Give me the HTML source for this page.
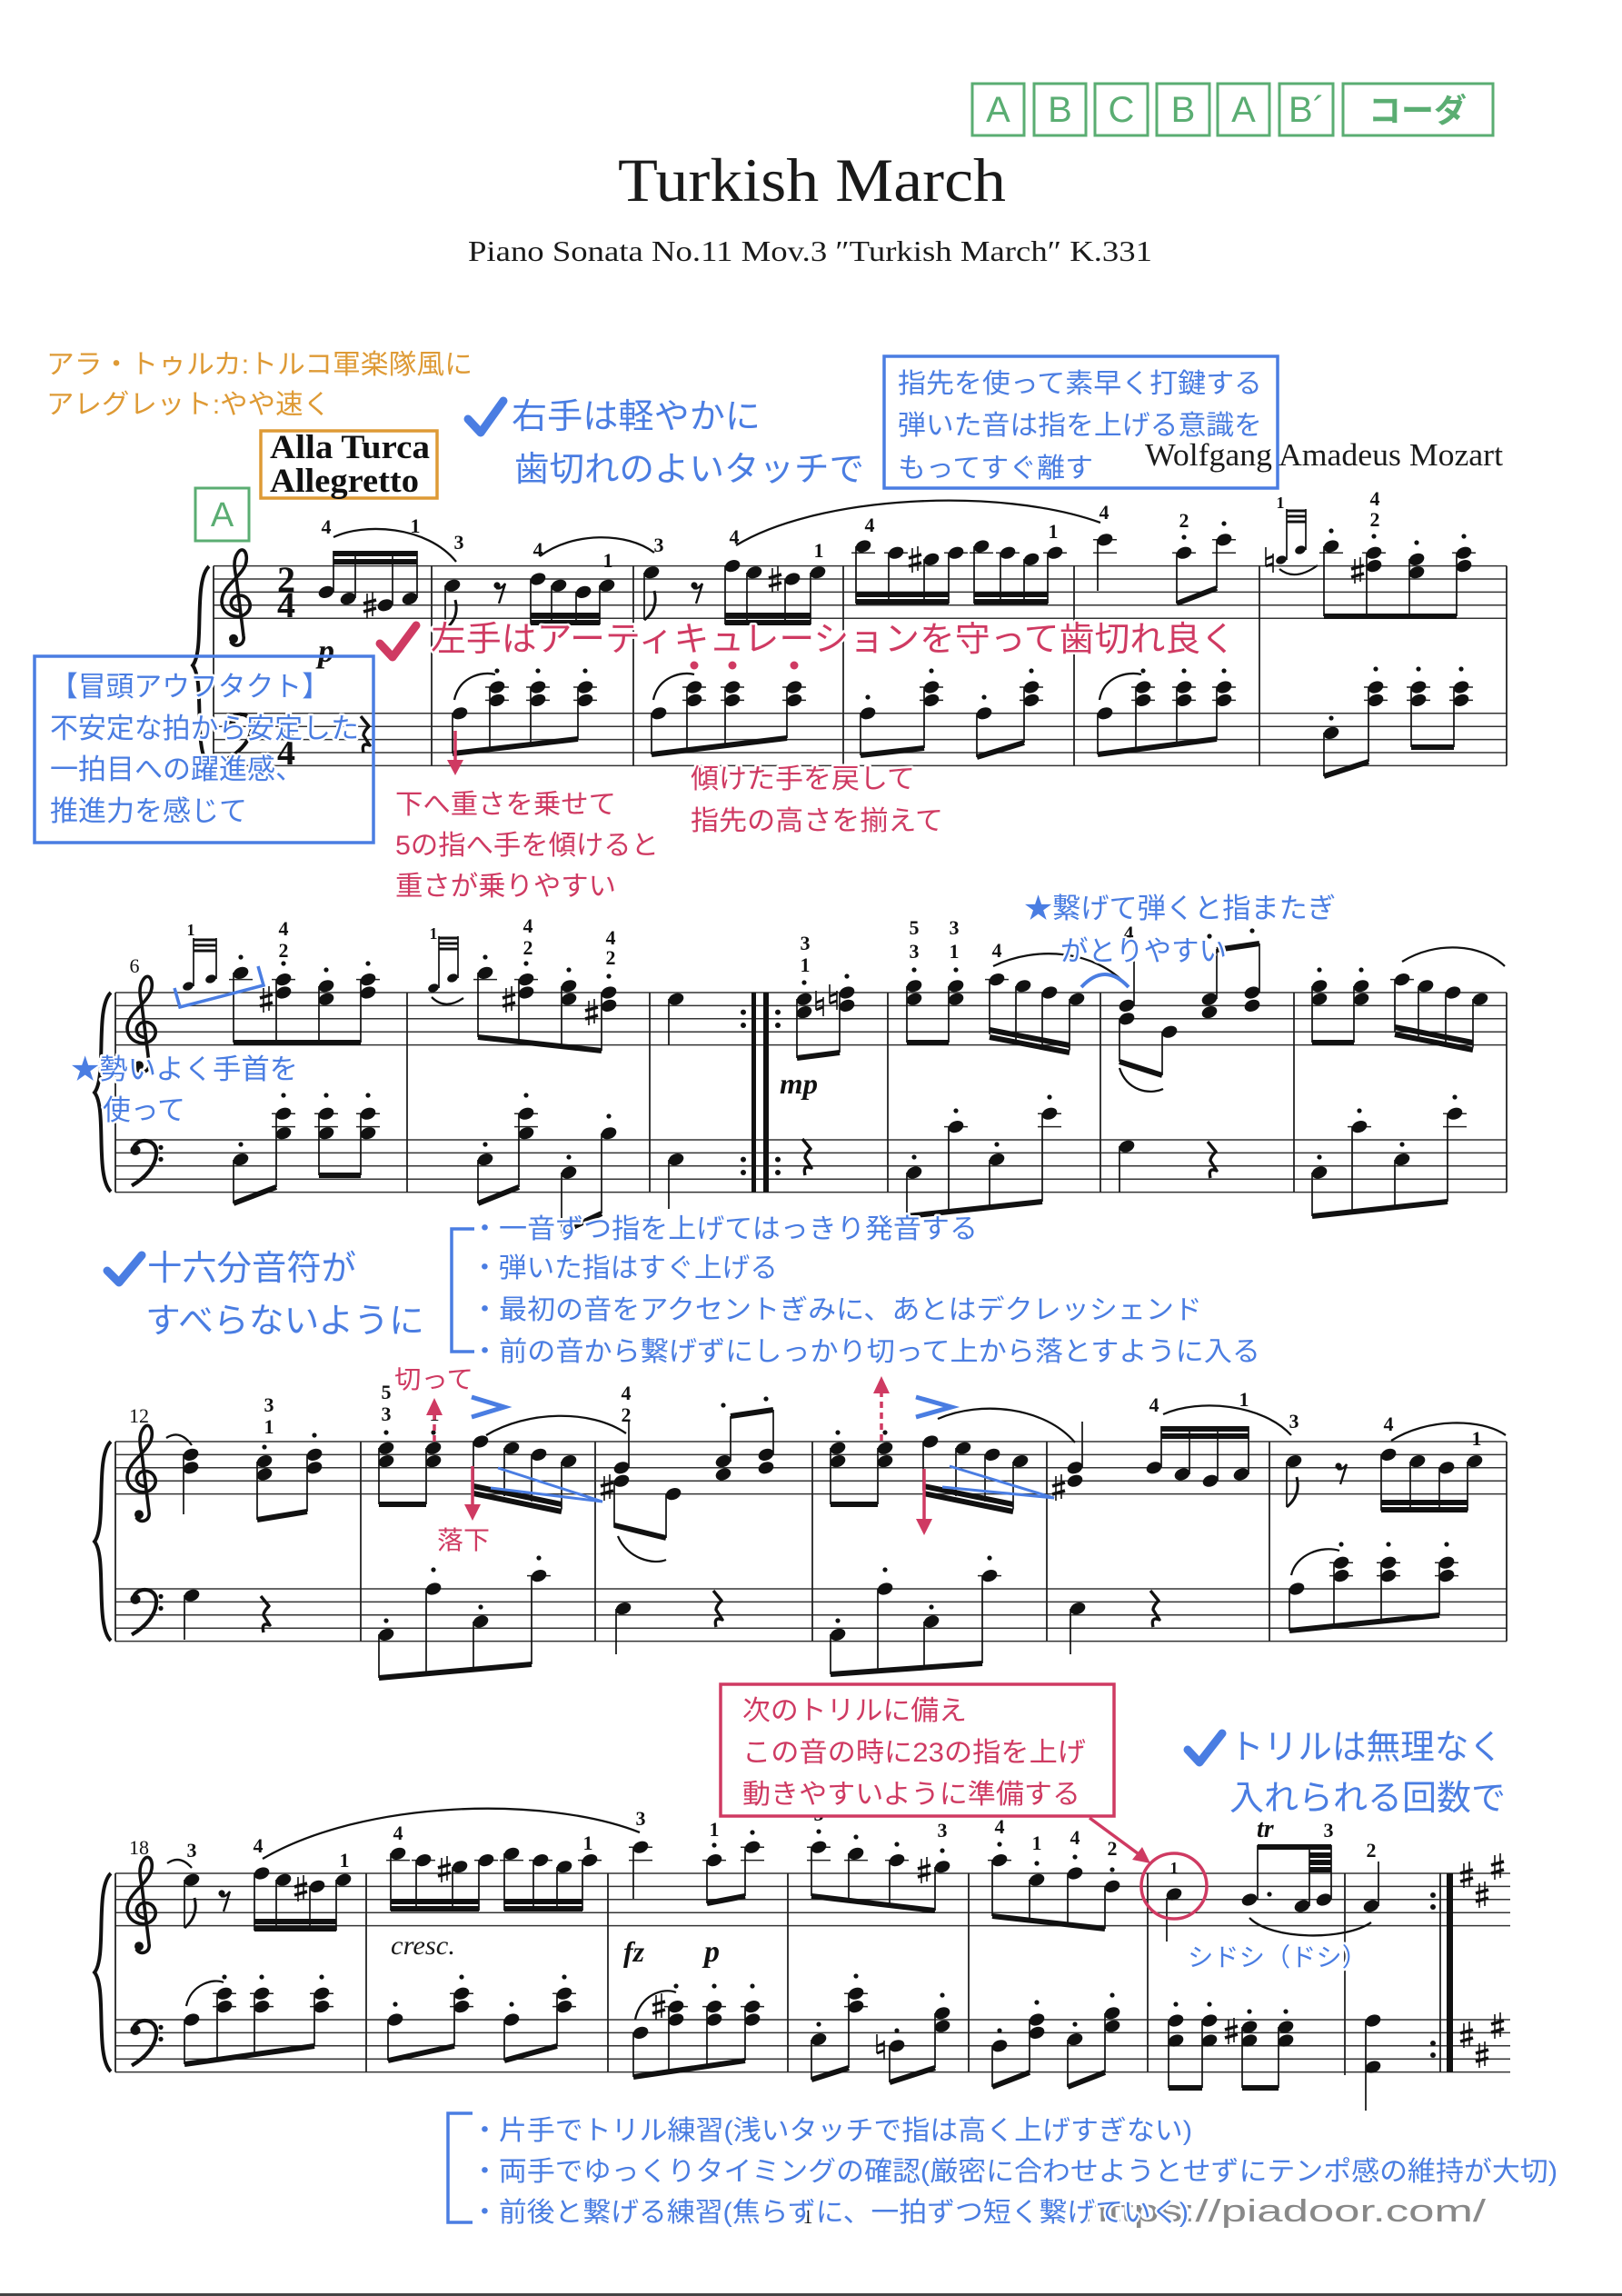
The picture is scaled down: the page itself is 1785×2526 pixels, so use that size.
<!DOCTYPE html>
<html><head><meta charset="utf-8">
<style>
html,body{margin:0;padding:0;background:#fff}
svg{display:block}
.f{font-family:"Liberation Serif",serif;font-weight:bold;font-size:22px;text-anchor:middle;fill:#111}
.t{font-family:"Liberation Sans","Noto Sans CJK JP",sans-serif;stroke:#fff;stroke-width:5px;paint-order:stroke;stroke-linejoin:round}
.b{fill:#4a7de2}.r{fill:#cf3a62}.o{fill:#de9a35}
.sr{font-family:"Liberation Serif",serif;fill:#1a1a1a}
.dy{font-family:"Liberation Serif",serif;font-weight:bold;font-style:italic;fill:#111}
</style></head><body>
<svg width="1785" height="2526" viewBox="0 0 1785 2526" xmlns="http://www.w3.org/2000/svg" xmlns:xlink="http://www.w3.org/1999/xlink">
<defs>
<ellipse id="h" rx="8.6" ry="6.2" transform="rotate(-22)"/>
<ellipse id="gh" rx="6" ry="4.4" transform="rotate(-22)"/>
<circle id="d" r="2.6"/>
<g id="sh" stroke="#111" fill="none"><path d="M-3 -13V14M3 -15V12" stroke-width="1.6"/><path d="M-7 -2L7 -6M-7 7L7 3" stroke-width="3.6"/></g>
<g id="na" stroke="#111" fill="none"><path d="M-4 -14V7M4 -7V14" stroke-width="1.6"/><path d="M-4 -1L4 -4M-4 7L4 4" stroke-width="3"/></g>
<g id="tc"><path d="M4 6C-8 8 -12 -6 -2 -10C10 -14 18 0 10 8C0 18 -18 10 -18 -4C-18 -20 2 -30 8 -44C12 -56 6 -66 0 -58C-6 -50 -4 -40 -2 -30L6 34C8 44 -4 48 -8 40" fill="none" stroke="#111" stroke-width="3.6"/><circle cx="-5" cy="37" r="5" fill="#111"/></g>
<g id="bc"><path d="M-10 -3C-10 -16 14 -18 15 -2C16 14 2 28 -12 36" fill="none" stroke="#111" stroke-width="4.2"/><circle cx="-8" cy="-3" r="5.5" fill="#111"/><circle cx="20" cy="-6" r="2.6" fill="#111"/><circle cx="20" cy="7" r="2.6" fill="#111"/></g>
<g id="er"><circle cx="-3" cy="-6" r="3.6" fill="#111"/><path d="M-4 -3Q1 -1 6 -8L-1 14" fill="none" stroke="#111" stroke-width="2.4"/></g>
<path id="qr" d="M-4 -24L5 -13Q-1 -7 -1 -3L6 8Q-4 4 -1 16" fill="none" stroke="#111" stroke-width="3.4" stroke-linejoin="round"/>
</defs>

<!-- Section boxes -->
<g fill="none" stroke="#5aad72" stroke-width="3">
<rect x="1070" y="92" width="57" height="57"/><rect x="1138" y="92" width="57" height="57"/><rect x="1205" y="92" width="58" height="57"/><rect x="1273" y="92" width="58" height="57"/><rect x="1340" y="92" width="57" height="57"/><rect x="1408" y="92" width="59" height="57"/><rect x="1478" y="92" width="165" height="57"/>
</g>
<g font-family="Liberation Sans, Noto Sans CJK JP, sans-serif" font-size="40" fill="#5aad72" text-anchor="middle">
<text x="1098.5" y="134">A</text><text x="1166.5" y="134">B</text><text x="1234" y="134">C</text><text x="1302" y="134">B</text><text x="1368.5" y="134">A</text><text x="1438" y="134">B´</text><text x="1560" y="134" font-size="36" font-weight="bold">コーダ</text>
</g>

<!-- Titles -->
<text class="sr" x="680" y="221" font-size="68" textLength="427" lengthAdjust="spacingAndGlyphs">Turkish March</text>
<text class="sr" x="515" y="287" font-size="32" textLength="753" lengthAdjust="spacingAndGlyphs">Piano Sonata No.11 Mov.3 ″Turkish March″ K.331</text>

<!-- Staff lines -->
<path fill="none" stroke="#333" stroke-width="1.5" d="
M235 622.6H1658M235 637H1658M235 651.4H1658M235 665.8H1658M235 680.2H1658
M235 784.8H1658M235 799.2H1658M235 813.6H1658M235 828H1658M235 842.4H1658
M127 1092H1658M127 1106.4H1658M127 1120.8H1658M127 1135.2H1658M127 1149.6H1658
M127 1254H1658M127 1268.4H1658M127 1282.8H1658M127 1297.2H1658M127 1311.6H1658
M127 1586H1658M127 1600.4H1658M127 1614.8H1658M127 1629.2H1658M127 1643.6H1658
M127 1748H1658M127 1762.4H1658M127 1776.8H1658M127 1791.2H1658M127 1805.6H1658
M127 2061H1662M127 2075.4H1662M127 2089.8H1662M127 2104.2H1662M127 2118.6H1662
M127 2222H1662M127 2236.4H1662M127 2250.8H1662M127 2265.2H1662M127 2279.6H1662"/>
<!-- Barlines -->
<path fill="none" stroke="#222" stroke-width="1.8" d="
M235 622.6V842.4M475 622.6V842.4M697 622.6V842.4M928 622.6V842.4M1182 622.6V842.4M1386 622.6V842.4M1658 622.6V842.4
M127 1092V1311.6M448 1092V1311.6M715 1092V1311.6M977 1092V1311.6M1211 1092V1311.6M1424 1092V1311.6M1658 1092V1311.6
M127 1586V1805.6M397 1586V1805.6M655 1586V1805.6M894 1586V1805.6M1152 1586V1805.6M1397 1586V1805.6M1658 1586V1805.6
M127 2061V2279.6M403 2061V2279.6M669 2061V2279.6M867 2061V2279.6M1066 2061V2279.6M1263 2061V2279.6M1480 2061V2283M1585 2061V2279.6"/>
<rect x="827" y="1092" width="5" height="219.6" fill="#111"/><rect x="840" y="1092" width="6" height="219.6" fill="#111"/>
<rect x="1592" y="2061" width="7" height="218.6" fill="#111"/>
<!-- Ledger lines -->
<path fill="none" stroke="#222" stroke-width="1.5" d="
M937 608.2h26M973 608.2h26M1039 608.2h26M1067 608.2h26M1096 608.2h26M1148 608.2h26M1203 608.2h26M1203 593.8h26M1290 608.2h26M1334 608.2h26M1334 593.8h26M1452 608.2h26M1499 608.2h26M1598 608.2h26
M534 770.4h26M534 756h26M579 770.4h26M579 756h26M631 770.4h26M631 756h26M751 770.4h26M751 756h26M793 770.4h26M793 756h26M861 770.4h26M861 756h26M1012 770.4h26M1012 756h26M1122 770.4h26M1122 756h26M1245 770.4h26M1245 756h26M1290 770.4h26M1290 756h26M1334 770.4h26M1334 756h26M1501 770.4h26M1501 756h26M1548 770.4h26M1548 756h26M1595 770.4h26M1595 756h26
M252 1077.6h26M299 1077.6h26M392 1077.6h26M521 1077.6h26M566 1077.6h26M1084 1077.6h26M1530 1077.6h26
M299 1239.6h26M299 1225.2h26M346 1239.6h26M346 1225.2h26M392 1239.6h26M392 1225.2h26M566 1239.6h26M566 1225.2h26M1142 1239.6h26M1142 1225.2h26M1588 1239.6h26M1588 1225.2h26M1039 1239.6h26M1483 1239.6h26
M580 1733.6h26M1076 1733.6h26M1463 1733.6h26M1463 1719.2h26M1515 1733.6h26M1515 1719.2h26M1579 1733.6h26M1579 1719.2h26
M425 2046.6h26M453 2046.6h26M522 2046.6h26M550 2046.6h26M582 2046.6h26M636 2046.6h26M692 2046.6h26M692 2032.2h26M773 2046.6h26M815 2046.6h26M815 2032.2h26M888 2046.6h26M888 2032.2h26M929 2046.6h26M974 2046.6h26M1087 2046.6h26
M234 2207.6h26M234 2193.2h26M275 2207.6h26M275 2193.2h26M341 2207.6h26M341 2193.2h26M495 2207.6h26M495 2193.2h26M608 2207.6h26M608 2193.2h26M731 2207.6h26M773 2207.6h26M815 2207.6h26M929 2207.6h26M929 2193.2h26"/>

<!-- Braces -->
<g fill="none" stroke="#111" stroke-width="4">
<path d="M230 623C212 640 226 715 212 732C226 750 212 825 230 842"/>
<path d="M122 1092C104 1109 118 1184 104 1202C118 1219 104 1294 122 1311"/>
<path d="M122 1586C104 1603 118 1678 104 1696C118 1713 104 1788 122 1805"/>
<path d="M122 2061C104 2078 118 2153 104 2170C118 2187 104 2262 122 2279"/>
</g>
<!-- Clefs -->
<use href="#tc" x="262" y="665.8"/><use href="#bc" x="262" y="799.2"/>
<use href="#tc" x="158" y="1135.2"/><use href="#bc" x="157" y="1268.4"/>
<use href="#tc" x="158" y="1629.2"/><use href="#bc" x="157" y="1762.4"/>
<use href="#tc" x="158" y="2104.2"/><use href="#bc" x="157" y="2236.4"/>
<!-- Time signature -->
<g font-family="Liberation Serif, serif" font-weight="bold" font-size="40" text-anchor="middle" fill="#111">
<text x="315" y="651">2</text><text x="315" y="679">4</text><text x="315" y="813">2</text><text x="315" y="841">4</text>
</g>
<!-- measure numbers -->
<g font-family="Liberation Serif, serif" font-size="22" fill="#111" text-anchor="middle">
<text x="148" y="1070">6</text><text x="153" y="1565">12</text><text x="153" y="2040">18</text><text x="889" y="2446">1</text>
</g>

<!-- Noteheads -->
<g fill="#111">
<use href="#h" x="359" y="651.4"/><use href="#h" x="383" y="658.6"/><use href="#h" x="424" y="665.8"/><use href="#h" x="451" y="658.6"/>
<use href="#h" x="498" y="644.2"/><use href="#h" x="592" y="637"/><use href="#h" x="615" y="644.2"/><use href="#h" x="642" y="651.4"/><use href="#h" x="668" y="644.2"/>
<use href="#h" x="717" y="629.8"/><use href="#h" x="806" y="622.6"/><use href="#h" x="830" y="629.8"/><use href="#h" x="872" y="637"/><use href="#h" x="900" y="629.8"/>
<use href="#h" x="950" y="601"/><use href="#h" x="986" y="608.2"/><use href="#h" x="1025" y="615.4"/><use href="#h" x="1052" y="608.2"/><use href="#h" x="1080" y="601"/><use href="#h" x="1109" y="608.2"/><use href="#h" x="1135" y="615.4"/><use href="#h" x="1161" y="608.2"/>
<use href="#h" x="1216" y="593.8"/><use href="#h" x="1303" y="608.2"/><use href="#h" x="1347" y="593.8"/>
<use href="#gh" x="1410" y="616"/><use href="#gh" x="1431" y="605"/>
<use href="#h" x="1465" y="601"/><use href="#h" x="1512" y="608.2"/><use href="#h" x="1512" y="622.6"/><use href="#h" x="1559" y="615.4"/><use href="#h" x="1559" y="629.8"/><use href="#h" x="1611" y="608.2"/><use href="#h" x="1611" y="622.6"/>
<!-- S1 bass -->
<use href="#h" x="506" y="784.8"/><use href="#h" x="547" y="756"/><use href="#h" x="547" y="770.4"/><use href="#h" x="592" y="756"/><use href="#h" x="592" y="770.4"/><use href="#h" x="644" y="756"/><use href="#h" x="644" y="770.4"/>
<use href="#h" x="725" y="784.8"/><use href="#h" x="764" y="756"/><use href="#h" x="764" y="770.4"/><use href="#h" x="806" y="756"/><use href="#h" x="806" y="770.4"/><use href="#h" x="874" y="756"/><use href="#h" x="874" y="770.4"/>
<use href="#h" x="955" y="784.8"/><use href="#h" x="1025" y="756"/><use href="#h" x="1025" y="770.4"/><use href="#h" x="1083" y="784.8"/><use href="#h" x="1135" y="756"/><use href="#h" x="1135" y="770.4"/>
<use href="#h" x="1216" y="784.8"/><use href="#h" x="1258" y="756"/><use href="#h" x="1258" y="770.4"/><use href="#h" x="1303" y="756"/><use href="#h" x="1303" y="770.4"/><use href="#h" x="1347" y="756"/><use href="#h" x="1347" y="770.4"/>
<use href="#h" x="1465" y="806.4"/><use href="#h" x="1514" y="756"/><use href="#h" x="1514" y="770.4"/><use href="#h" x="1561" y="756"/><use href="#h" x="1561" y="770.4"/><use href="#h" x="1608" y="756"/><use href="#h" x="1608" y="770.4"/>
<!-- S2 treble -->
<use href="#gh" x="207" y="1085"/><use href="#gh" x="232" y="1077"/>
<use href="#h" x="265" y="1070.4"/><use href="#h" x="312" y="1077.6"/><use href="#h" x="312" y="1092"/><use href="#h" x="359" y="1084.8"/><use href="#h" x="359" y="1099.2"/><use href="#h" x="405" y="1077.6"/><use href="#h" x="405" y="1092"/>
<use href="#gh" x="477" y="1087"/><use href="#gh" x="498" y="1076"/>
<use href="#h" x="534" y="1070.4"/><use href="#h" x="579" y="1077.6"/><use href="#h" x="579" y="1092"/><use href="#h" x="626" y="1084.8"/><use href="#h" x="626" y="1099.2"/><use href="#h" x="670" y="1092"/><use href="#h" x="670" y="1106.4"/>
<use href="#h" x="744" y="1099.2"/>
<use href="#h" x="885" y="1099.2"/><use href="#h" x="885" y="1113.6"/><use href="#h" x="932" y="1092"/><use href="#h" x="932" y="1106.4"/>
<use href="#h" x="1006" y="1084.8"/><use href="#h" x="1006" y="1099.2"/><use href="#h" x="1052" y="1084.8"/><use href="#h" x="1052" y="1099.2"/><use href="#h" x="1097" y="1077.6"/><use href="#h" x="1126" y="1084.8"/><use href="#h" x="1155" y="1092"/><use href="#h" x="1185" y="1099.2"/>
<use href="#h" x="1240" y="1106.4"/><use href="#h" x="1240" y="1120.8"/><use href="#h" x="1287" y="1135.2"/><use href="#h" x="1331" y="1099.2"/><use href="#h" x="1331" y="1113.6"/><use href="#h" x="1378" y="1092"/><use href="#h" x="1378" y="1106.4"/>
<use href="#h" x="1452" y="1084.8"/><use href="#h" x="1452" y="1099.2"/><use href="#h" x="1498" y="1084.8"/><use href="#h" x="1498" y="1099.2"/><use href="#h" x="1543" y="1077.6"/><use href="#h" x="1569" y="1084.8"/><use href="#h" x="1599" y="1092"/><use href="#h" x="1629" y="1099.2"/>
<!-- S2 bass -->
<use href="#h" x="265" y="1275.6"/><use href="#h" x="312" y="1225.2"/><use href="#h" x="312" y="1246.8"/><use href="#h" x="359" y="1225.2"/><use href="#h" x="359" y="1246.8"/><use href="#h" x="405" y="1225.2"/><use href="#h" x="405" y="1246.8"/>
<use href="#h" x="534" y="1275.6"/><use href="#h" x="579" y="1225.2"/><use href="#h" x="579" y="1246.8"/><use href="#h" x="626" y="1290"/><use href="#h" x="670" y="1246.8"/>
<use href="#h" x="744" y="1275.6"/>
<use href="#h" x="1006" y="1290"/><use href="#h" x="1052" y="1239.6"/><use href="#h" x="1097" y="1275.6"/><use href="#h" x="1155" y="1225.2"/>
<use href="#h" x="1240" y="1261.2"/>
<use href="#h" x="1452" y="1290"/><use href="#h" x="1496" y="1239.6"/><use href="#h" x="1543" y="1275.6"/><use href="#h" x="1601" y="1225.2"/>
<!-- S3 treble -->
<use href="#h" x="210" y="1600.4"/><use href="#h" x="210" y="1614.8"/><use href="#h" x="291" y="1607.6"/><use href="#h" x="291" y="1622"/><use href="#h" x="346" y="1600.4"/><use href="#h" x="346" y="1614.8"/>
<use href="#h" x="425" y="1593.2"/><use href="#h" x="425" y="1607.6"/><use href="#h" x="477" y="1593.2"/><use href="#h" x="477" y="1607.6"/><use href="#h" x="529" y="1586"/><use href="#h" x="563" y="1593.2"/><use href="#h" x="593" y="1600.4"/><use href="#h" x="626" y="1607.6"/>
<use href="#h" x="684" y="1614.8"/><use href="#h" x="684" y="1629.2"/><use href="#h" x="741" y="1643.6"/><use href="#h" x="796" y="1607.6"/><use href="#h" x="796" y="1622"/><use href="#h" x="843" y="1600.4"/><use href="#h" x="843" y="1614.8"/>
<use href="#h" x="922" y="1593.2"/><use href="#h" x="922" y="1607.6"/><use href="#h" x="974" y="1593.2"/><use href="#h" x="974" y="1607.6"/><use href="#h" x="1024" y="1586"/><use href="#h" x="1060" y="1593.2"/><use href="#h" x="1092" y="1600.4"/><use href="#h" x="1123" y="1607.6"/>
<use href="#h" x="1183" y="1614.8"/><use href="#h" x="1183" y="1629.2"/><use href="#h" x="1270" y="1614.8"/><use href="#h" x="1301" y="1622"/><use href="#h" x="1332" y="1629.2"/><use href="#h" x="1366" y="1622"/>
<use href="#h" x="1424" y="1607.6"/><use href="#h" x="1528" y="1600.4"/><use href="#h" x="1560" y="1607.6"/><use href="#h" x="1592" y="1614.8"/><use href="#h" x="1623" y="1607.6"/>
<!-- S3 bass -->
<use href="#h" x="211" y="1755.2"/>
<use href="#h" x="425" y="1798.4"/><use href="#h" x="477" y="1748"/><use href="#h" x="529" y="1784"/><use href="#h" x="593" y="1733.6"/>
<use href="#h" x="686" y="1769.6"/>
<use href="#h" x="922" y="1798.4"/><use href="#h" x="974" y="1748"/><use href="#h" x="1025" y="1784"/><use href="#h" x="1089" y="1733.6"/>
<use href="#h" x="1186" y="1769.6"/>
<use href="#h" x="1427" y="1748"/><use href="#h" x="1476" y="1719.2"/><use href="#h" x="1476" y="1733.6"/><use href="#h" x="1528" y="1719.2"/><use href="#h" x="1528" y="1733.6"/><use href="#h" x="1592" y="1719.2"/><use href="#h" x="1592" y="1733.6"/>
<!-- S4 treble -->
<use href="#h" x="211" y="2068.2"/><use href="#h" x="288" y="2061"/><use href="#h" x="312" y="2068.2"/><use href="#h" x="349" y="2075.4"/><use href="#h" x="378" y="2068.2"/>
<use href="#h" x="438" y="2039.4"/><use href="#h" x="466" y="2046.6"/><use href="#h" x="506" y="2053.8"/><use href="#h" x="535" y="2046.6"/><use href="#h" x="563" y="2039.4"/><use href="#h" x="595" y="2046.6"/><use href="#h" x="621" y="2053.8"/><use href="#h" x="649" y="2046.6"/>
<use href="#h" x="705" y="2032.2"/><use href="#h" x="786" y="2046.6"/><use href="#h" x="828" y="2032.2"/>
<use href="#h" x="901" y="2032.2"/><use href="#h" x="942" y="2039.4"/><use href="#h" x="987" y="2046.6"/><use href="#h" x="1037" y="2053.8"/>
<use href="#h" x="1100" y="2046.6"/><use href="#h" x="1141" y="2068.2"/><use href="#h" x="1183" y="2061"/><use href="#h" x="1224" y="2075.4"/>
<use href="#h" x="1292" y="2084"/><use href="#h" x="1375" y="2090"/><use href="#h" x="1433" y="2097"/><use href="#h" x="1457" y="2090"/><use href="#h" x="1509" y="2097"/>
<!-- S4 bass -->
<use href="#h" x="211" y="2222"/><use href="#h" x="247" y="2193.2"/><use href="#h" x="247" y="2207.6"/><use href="#h" x="288" y="2193.2"/><use href="#h" x="288" y="2207.6"/><use href="#h" x="354" y="2193.2"/><use href="#h" x="354" y="2207.6"/>
<use href="#h" x="435" y="2222"/><use href="#h" x="508" y="2193.2"/><use href="#h" x="508" y="2207.6"/><use href="#h" x="563" y="2222"/><use href="#h" x="621" y="2193.2"/><use href="#h" x="621" y="2207.6"/>
<use href="#h" x="705" y="2236.4"/><use href="#h" x="744" y="2207.6"/><use href="#h" x="744" y="2222"/><use href="#h" x="786" y="2207.6"/><use href="#h" x="786" y="2222"/><use href="#h" x="828" y="2207.6"/><use href="#h" x="828" y="2222"/>
<use href="#h" x="901" y="2243.6"/><use href="#h" x="942" y="2193.2"/><use href="#h" x="942" y="2207.6"/><use href="#h" x="987" y="2250.8"/><use href="#h" x="1037" y="2214.8"/><use href="#h" x="1037" y="2229.2"/>
<use href="#h" x="1100" y="2250.8"/><use href="#h" x="1141" y="2222"/><use href="#h" x="1141" y="2236.4"/><use href="#h" x="1183" y="2243.6"/><use href="#h" x="1224" y="2214.8"/><use href="#h" x="1224" y="2229.2"/>
<use href="#h" x="1294" y="2223"/><use href="#h" x="1294" y="2245"/><use href="#h" x="1331" y="2223"/><use href="#h" x="1331" y="2245"/><use href="#h" x="1375" y="2230"/><use href="#h" x="1375" y="2245"/><use href="#h" x="1415" y="2230"/><use href="#h" x="1415" y="2245"/>
<use href="#h" x="1511" y="2223"/><use href="#h" x="1511" y="2274"/>
</g>

<!-- Stems -->
<path fill="none" stroke="#111" stroke-width="1.7" d="
M367 651V606M391 658V606M432 665V606M459 658V606
M490 644V692M584 637V687M607 644V687M634 651V687M660 644V687
M709 630V682M798 623V687M822 630V687M864 637V687M892 630V687
M942 601V664M978 608V664M1017 615V664M1044 608V664M1072 601V664M1101 608V664M1127 615V664M1153 608V664
M1208 594V650M1295 608V664M1339 594V647
M1416 616V560M1437 605V560
M1457 601V678M1504 608V678M1551 615V678M1603 608V678
M498 785V829M539 756V824M584 756V819M636 756V813
M717 785V830M756 756V825M798 756V820M866 756V812
M947 785V831M1017 756V823M1075 785V833M1127 756V817
M1208 785V830M1250 756V826M1295 756V820M1339 756V813
M1457 806V854M1506 756V838M1553 756V822M1600 756V822
M213 1085V1032M238 1077V1032
M257 1070V1147M304 1078V1147M351 1085V1147M397 1078V1147
M483 1087V1030M504 1076V1030
M526 1070V1141M571 1078V1146M618 1085V1151M662 1092V1156
M736 1099V1150M877 1099V1164M924 1092V1158
M998 1085V1147M1044 1085V1147M1089 1078V1138M1118 1085V1144M1147 1092V1150M1177 1099V1155
M1248 1106V1040M1232 1121V1168M1279 1135V1183M1339 1099V1044M1386 1092V1038
M1444 1085V1147M1490 1085V1147M1535 1078V1135M1561 1085V1140M1591 1092V1146M1621 1099V1152
M257 1276V1324M304 1225V1306M351 1225V1293M397 1225V1293
M526 1276V1324M571 1225V1306M618 1290V1356M662 1247V1335
M736 1276V1330
M998 1290V1338M1044 1240V1333M1089 1276V1328M1147 1225V1322
M1232 1261V1312
M1444 1290V1338M1488 1240V1333M1535 1276V1328M1593 1225V1322
M202 1600V1666M283 1608V1672M338 1600V1663
M417 1593V1655M469 1593V1655M521 1586V1640M555 1593V1646M585 1600V1652M618 1608V1660
M692 1615V1564M676 1629V1680M733 1644V1692M804 1608V1558M851 1600V1551
M914 1593V1655M966 1593V1655M1016 1586V1640M1052 1593V1646M1084 1600V1652M1115 1608V1660
M1191 1615V1564M1278 1615V1569M1309 1622V1569M1340 1629V1569M1374 1622V1569
M1416 1608V1658M1520 1600V1662M1552 1608V1662M1584 1615V1662M1615 1608V1662
M203 1755V1804M417 1798V1846M469 1748V1841M521 1784V1837M585 1734V1831
M678 1770V1820M914 1798V1842M966 1748V1838M1017 1784V1835M1081 1734V1830
M1178 1770V1820M1419 1748V1794M1468 1719V1789M1520 1719V1783M1584 1719V1777
M203 2068V2121M280 2061V2124M304 2068V2124M341 2075V2124M370 2068V2124
M430 2039V2102M458 2047V2102M498 2054V2102M527 2047V2102M555 2039V2102M587 2047V2102M613 2054V2102M641 2047V2102
M697 2032V2089M778 2047V2094M820 2032V2086
M893 2032V2086M934 2039V2091M979 2047V2096M1029 2054V2102
M1092 2047V2108M1133 2068V2113M1175 2061V2117M1216 2075V2122
M1284 2088V2136M1384 2090V2030M1441 2097V2030M1465 2090V2030M1517 2097V2048
M203 2222V2271M239 2193V2266M280 2193V2260M346 2193V2251
M427 2222V2267M500 2193V2251M555 2222V2267M613 2193V2251
M697 2236V2285M736 2208V2279M778 2208V2273M820 2208V2267
M893 2244V2288M934 2193V2275M979 2251V2291M1029 2215V2275
M1092 2251V2296M1133 2222V2280M1175 2244V2296M1216 2215V2280
M1286 2223V2297M1323 2223V2297M1367 2230V2297M1407 2230V2297
M1503 2223V2322"/>

<!-- Beams -->
<path fill="none" stroke="#111" stroke-width="6" d="
M367 609H459M367 618H459
M584 677H660M584 685H660M798 677H892M798 685H892
M942 654H1044M942 662H1044M1072 654H1153M1072 662H1153
M1295 664L1339 647M1457 678H1603
M498 829L636 813M717 830L866 812M947 831L1017 823M1075 833L1127 817M1208 830L1339 813M1457 854L1506 838M1553 822H1600
M257 1147H397M526 1141L662 1156M877 1164L924 1158M998 1147H1044
M1089 1133L1177 1150M1089 1141L1177 1158
M1232 1168L1279 1183M1339 1045L1386 1038M1444 1147H1490
M1535 1130L1621 1147M1535 1138L1621 1155
M257 1324L304 1306M351 1293H397M526 1324L571 1306M618 1356L662 1335M998 1338L1147 1322M1444 1338L1593 1322
M283 1672L338 1663M417 1655H469M521 1635L618 1655M521 1643L618 1663
M676 1678L733 1692M804 1558L851 1551M914 1655H966
M1016 1635L1115 1655M1016 1643L1115 1663
M1278 1572H1374M1278 1580H1374M1520 1653H1615M1520 1661H1615
M417 1846L585 1831M914 1842L1081 1830M1419 1794L1584 1777
M280 2114H370M280 2122H370M430 2092H527M430 2100H527M555 2092H641M555 2100H641
M778 2094L820 2086M893 2086L1029 2102M1092 2108L1216 2122
M1384 2032H1465M1441 2041H1465M1441 2049H1465M1441 2057H1465
M203 2271L346 2251M427 2267L500 2251M555 2267L613 2251M697 2285L820 2267
M893 2288L934 2275M979 2291L1029 2275M1092 2296L1133 2280M1175 2296L1216 2280
M1286 2297H1323M1367 2297H1407"/>
<path fill="none" stroke="#111" stroke-width="3" d="M1416 562H1437M1416 568H1437M1416 574H1437M213 1034H238M213 1040H238M213 1046H238M483 1032H504M483 1038H504M483 1044H504"/>
<!-- flags -->
<path fill="none" stroke="#111" stroke-width="3" d="M490 692Q506 680 501 660M709 682Q725 670 720 650M1416 1658Q1432 1645 1427 1625M203 2121Q219 2108 214 2088"/>

<!-- staccato dots -->
<g fill="#111">
<use href="#d" x="1303" y="591"/><use href="#d" x="1347" y="576"/><use href="#d" x="1465" y="584"/><use href="#d" x="1512" y="590"/><use href="#d" x="1559" y="597"/><use href="#d" x="1611" y="590"/>
<use href="#d" x="547" y="738"/><use href="#d" x="592" y="738"/><use href="#d" x="644" y="738"/>
<use href="#d" x="955" y="767"/><use href="#d" x="1025" y="738"/><use href="#d" x="1083" y="767"/><use href="#d" x="1135" y="738"/>
<use href="#d" x="1258" y="738"/><use href="#d" x="1303" y="738"/><use href="#d" x="1347" y="738"/>
<use href="#d" x="1465" y="790"/><use href="#d" x="1514" y="736"/><use href="#d" x="1561" y="736"/><use href="#d" x="1608" y="736"/>
<use href="#d" x="265" y="1053"/><use href="#d" x="312" y="1060"/><use href="#d" x="359" y="1067"/><use href="#d" x="405" y="1060"/><use href="#d" x="534" y="1053"/><use href="#d" x="579" y="1060"/><use href="#d" x="626" y="1067"/><use href="#d" x="670" y="1074"/>
<use href="#d" x="885" y="1081"/><use href="#d" x="932" y="1074"/><use href="#d" x="1006" y="1067"/><use href="#d" x="1052" y="1067"/><use href="#d" x="1331" y="1030"/><use href="#d" x="1378" y="1024"/><use href="#d" x="1452" y="1067"/><use href="#d" x="1498" y="1067"/>
<use href="#d" x="265" y="1259"/><use href="#d" x="312" y="1205"/><use href="#d" x="359" y="1205"/><use href="#d" x="405" y="1205"/><use href="#d" x="534" y="1259"/><use href="#d" x="579" y="1205"/><use href="#d" x="626" y="1273"/><use href="#d" x="670" y="1228"/>
<use href="#d" x="1006" y="1273"/><use href="#d" x="1052" y="1222"/><use href="#d" x="1097" y="1259"/><use href="#d" x="1155" y="1207"/><use href="#d" x="1452" y="1273"/><use href="#d" x="1496" y="1222"/><use href="#d" x="1543" y="1259"/><use href="#d" x="1601" y="1207"/>
<use href="#d" x="291" y="1592"/><use href="#d" x="346" y="1579"/><use href="#d" x="425" y="1576"/><use href="#d" x="477" y="1576"/><use href="#d" x="796" y="1546"/><use href="#d" x="843" y="1539"/><use href="#d" x="922" y="1576"/><use href="#d" x="974" y="1576"/>
<use href="#d" x="425" y="1783"/><use href="#d" x="477" y="1727"/><use href="#d" x="529" y="1768"/><use href="#d" x="593" y="1714"/><use href="#d" x="922" y="1783"/><use href="#d" x="974" y="1727"/><use href="#d" x="1025" y="1768"/><use href="#d" x="1089" y="1714"/><use href="#d" x="1476" y="1699"/><use href="#d" x="1528" y="1699"/><use href="#d" x="1592" y="1699"/>
<use href="#d" x="786" y="2030"/><use href="#d" x="828" y="2016"/><use href="#d" x="901" y="2015"/><use href="#d" x="942" y="2021"/><use href="#d" x="987" y="2029"/><use href="#d" x="1037" y="2036"/><use href="#d" x="1100" y="2029"/><use href="#d" x="1141" y="2050"/><use href="#d" x="1183" y="2043"/><use href="#d" x="1224" y="2057"/><use href="#d" x="1397" y="2084"/>
<use href="#d" x="247" y="2175"/><use href="#d" x="288" y="2175"/><use href="#d" x="354" y="2175"/><use href="#d" x="435" y="2205"/><use href="#d" x="508" y="2175"/><use href="#d" x="563" y="2205"/><use href="#d" x="621" y="2175"/><use href="#d" x="744" y="2185"/><use href="#d" x="786" y="2185"/><use href="#d" x="828" y="2185"/>
<use href="#d" x="901" y="2227"/><use href="#d" x="942" y="2174"/><use href="#d" x="987" y="2234"/><use href="#d" x="1037" y="2195"/><use href="#d" x="1100" y="2234"/><use href="#d" x="1141" y="2203"/><use href="#d" x="1183" y="2227"/><use href="#d" x="1224" y="2195"/>
<use href="#d" x="1294" y="2205"/><use href="#d" x="1331" y="2205"/><use href="#d" x="1375" y="2213"/><use href="#d" x="1415" y="2213"/>
<!-- repeat dots -->
<circle cx="818" cy="1113.6" r="3"/><circle cx="818" cy="1128" r="3"/><circle cx="856" cy="1113.6" r="3"/><circle cx="856" cy="1128" r="3"/>
<circle cx="818" cy="1275.6" r="3"/><circle cx="818" cy="1290" r="3"/><circle cx="856" cy="1275.6" r="3"/><circle cx="856" cy="1290" r="3"/>
<circle cx="1577" cy="2085" r="3"/><circle cx="1577" cy="2098" r="3"/><circle cx="1577" cy="2248" r="3"/><circle cx="1577" cy="2261" r="3"/>
</g>
<!-- red dots -->
<g fill="#cf3a62"><circle cx="764" cy="732" r="4.5"/><circle cx="806" cy="732" r="4.5"/><circle cx="874" cy="732" r="4.5"/></g>

<!-- accidentals -->
<use href="#sh" x="407" y="666"/><use href="#sh" x="853" y="638"/><use href="#sh" x="1007" y="616"/><use href="#na" x="1397" y="616"/><use href="#sh" x="1494" y="628"/>
<use href="#sh" x="293" y="1100"/><use href="#sh" x="560" y="1100"/><use href="#sh" x="651" y="1114"/><use href="#na" x="902" y="1104"/><use href="#na" x="917" y="1097"/>
<use href="#sh" x="668" y="1637"/><use href="#sh" x="1165" y="1637"/>
<use href="#sh" x="331" y="2078"/><use href="#sh" x="489" y="2057"/><use href="#sh" x="1017" y="2058"/>
<use href="#sh" x="725" y="2208"/><use href="#na" x="969" y="2252"/><use href="#sh" x="1355" y="2235"/>
<use href="#sh" x="1614" y="2063"/><use href="#sh" x="1631" y="2085"/><use href="#sh" x="1648" y="2054"/>
<use href="#sh" x="1614" y="2239"/><use href="#sh" x="1631" y="2261"/><use href="#sh" x="1648" y="2229"/>

<!-- rests -->
<use href="#er" x="550" y="650"/><use href="#er" x="767" y="650"/><use href="#er" x="1476" y="1619"/><use href="#er" x="247" y="2089"/>
<use href="#qr" x="401" y="812"/><use href="#qr" x="887" y="1277"/><use href="#qr" x="1333" y="1280"/><use href="#qr" x="291" y="1780"/><use href="#qr" x="789" y="1774"/><use href="#qr" x="1270" y="1774"/>

<!-- slurs -->
<path fill="none" stroke="#111" stroke-width="2.3" d="
M367 591C400 575 470 578 502 618
M594 612C630 585 690 585 720 608
M810 600C900 545 1100 535 1211 575
M1408 626Q1425 640 1450 622
M500 770C505 745 530 738 545 742M719 770C724 745 750 738 764 742M1210 770C1214 745 1240 738 1256 742
M475 1097Q490 1112 510 1098
M1093 1063C1140 1040 1205 1045 1240 1084
M1232 1175C1240 1200 1265 1205 1280 1198
M1543 1058C1580 1035 1630 1038 1656 1063
M183 1582Q198 1572 211 1590
M535 1579C580 1552 650 1550 689 1577
M680 1690C690 1715 720 1722 733 1716
M1032 1561C1080 1540 1150 1548 1183 1587
M1280 1556C1320 1538 1390 1545 1421 1579
M1531 1585C1570 1560 1630 1560 1657 1579
M1421 1733C1426 1710 1455 1700 1474 1706
M184 2050Q198 2040 211 2055
M289 2045C400 1980 600 1975 704 2016
M1375 2110C1400 2135 1480 2135 1509 2115
M205 2207C210 2183 235 2176 246 2181
M699 2222C704 2195 730 2186 744 2192"/>

<!-- fingerings -->
<g class="f">
<text x="359" y="587">4</text><text x="457" y="586">1</text><text x="505" y="604">3</text><text x="592" y="612">4</text><text x="669" y="624">1</text><text x="725" y="607">3</text><text x="808" y="598">4</text><text x="901" y="613">1</text><text x="957" y="585">4</text><text x="1159" y="592">1</text><text x="1215" y="571">4</text><text x="1303" y="580">2</text><text x="1409" y="559" font-size="18">1</text><text x="1513" y="556">4</text><text x="1513" y="579">2</text>
<text x="210" y="1029" font-size="18">1</text><text x="312" y="1029">4</text><text x="312" y="1053">2</text><text x="477" y="1033" font-size="18">1</text><text x="581" y="1026">4</text><text x="581" y="1050">2</text><text x="672" y="1039">4</text><text x="672" y="1061">2</text><text x="886" y="1045">3</text><text x="886" y="1069">1</text><text x="1006" y="1028">5</text><text x="1006" y="1054">3</text><text x="1050" y="1028">3</text><text x="1050" y="1054">1</text><text x="1097" y="1053">4</text><text x="1242" y="1034">4</text>
<text x="296" y="1553">3</text><text x="296" y="1577">1</text><text x="425" y="1539">5</text><text x="425" y="1563">3</text><text x="478" y="1563">1</text><text x="689" y="1540">4</text><text x="689" y="1564">2</text><text x="1270" y="1553">4</text><text x="1369" y="1547">1</text><text x="1424" y="1571">3</text><text x="1528" y="1574">4</text><text x="1625" y="1590">1</text>
<text x="211" y="2043">3</text><text x="284" y="2038">4</text><text x="379" y="2054">1</text><text x="438" y="2024">4</text><text x="647" y="2035">1</text><text x="705" y="2008">3</text><text x="786" y="2020">1</text><text x="901" y="2003">3</text><text x="1037" y="2021">3</text><text x="1100" y="2017">4</text><text x="1141" y="2035">1</text><text x="1183" y="2029">4</text><text x="1224" y="2041">2</text><text x="1292" y="2061" font-size="18">1</text><text x="1462" y="2021">3</text><text x="1509" y="2043">2</text>
</g>
<!-- dynamics -->
<text class="dy" x="350" y="728" font-size="36">p</text>
<text class="dy" x="858" y="1203" font-size="32" textLength="42" lengthAdjust="spacingAndGlyphs">mp</text>
<text class="sr" x="430" y="2150" font-size="30" font-style="italic" textLength="71" lengthAdjust="spacingAndGlyphs">cresc.</text>
<text class="dy" x="686" y="2158" font-size="32">fz</text>
<text class="dy" x="775" y="2158" font-size="34">p</text>
<text class="dy" x="1383" y="2021" font-size="28">tr</text>

<!-- ===== Annotations ===== -->
<!-- orange -->
<text class="t o" x="51" y="411" font-size="30" textLength="469" lengthAdjust="spacingAndGlyphs">アラ・トゥルカ:トルコ軍楽隊風に</text>
<text class="t o" x="51" y="455" font-size="30" textLength="313" lengthAdjust="spacingAndGlyphs">アレグレット:やや速く</text>
<rect x="287" y="474" width="194" height="74" fill="#fff" stroke="#de9a35" stroke-width="3.5"/>
<text x="297" y="504" font-family="Liberation Serif, serif" font-weight="bold" font-size="37" fill="#111" textLength="176" lengthAdjust="spacingAndGlyphs">Alla Turca</text>
<text x="297" y="541" font-family="Liberation Serif, serif" font-weight="bold" font-size="37" fill="#111" textLength="164" lengthAdjust="spacingAndGlyphs">Allegretto</text>
<rect x="215" y="537" width="59" height="58" fill="none" stroke="#5aad72" stroke-width="3"/>
<text x="244.5" y="579" font-family="Liberation Sans, sans-serif" font-size="38" fill="#5aad72" text-anchor="middle">A</text>

<!-- blue top -->
<path d="M515 461L529 476L554 441" fill="none" stroke="#4a7de2" stroke-width="9" stroke-linecap="round" stroke-linejoin="round"/>
<text class="t b" x="563" y="471" font-size="38" textLength="274" lengthAdjust="spacingAndGlyphs">右手は軽やかに</text>
<text class="t b" x="566" y="529" font-size="38" textLength="385" lengthAdjust="spacingAndGlyphs">歯切れのよいタッチで</text>
<rect x="973" y="392" width="433" height="145" fill="none" stroke="#4a7de2" stroke-width="3.5"/>
<text class="t b" x="988" y="432" font-size="30" textLength="401" lengthAdjust="spacingAndGlyphs">指先を使って素早く打鍵する</text>
<text class="t b" x="988" y="478" font-size="30" textLength="401" lengthAdjust="spacingAndGlyphs">弾いた音は指を上げる意識を</text>
<text class="t b" x="988" y="525" font-size="30" textLength="215" lengthAdjust="spacingAndGlyphs">もってすぐ離す</text>
<text class="sr" x="1260" y="512" font-size="35" textLength="394" lengthAdjust="spacingAndGlyphs">Wolfgang Amadeus Mozart</text>

<!-- red S1 -->
<path d="M418 708L432 723L458 688" fill="none" stroke="#cf3a62" stroke-width="9" stroke-linecap="round" stroke-linejoin="round"/>
<text class="t r" x="474" y="716" font-size="38" textLength="886" lengthAdjust="spacingAndGlyphs">左手はアーティキュレーションを守って歯切れ良く</text>
<path d="M501 804V838" stroke="#cf3a62" stroke-width="3.5"/><polygon points="492,836 510,836 501,853" fill="#cf3a62"/>
<text class="t r" x="435" y="895" font-size="30" textLength="243" lengthAdjust="spacingAndGlyphs">下へ重さを乗せて</text>
<text class="t r" x="435" y="940" font-size="30" textLength="290" lengthAdjust="spacingAndGlyphs">5の指へ手を傾けると</text>
<text class="t r" x="435" y="985" font-size="30" textLength="243" lengthAdjust="spacingAndGlyphs">重さが乗りやすい</text>
<text class="t r" x="760" y="867" font-size="30" textLength="247" lengthAdjust="spacingAndGlyphs">傾けた手を戻して</text>
<text class="t r" x="760" y="913" font-size="30" textLength="278" lengthAdjust="spacingAndGlyphs">指先の高さを揃えて</text>

<!-- left blue box -->
<rect x="38" y="722" width="373" height="205" fill="none" stroke="#4a7de2" stroke-width="3.5"/>
<text class="t b" x="55" y="766" font-size="31" textLength="308" lengthAdjust="spacingAndGlyphs">【冒頭アウフタクト】</text>
<text class="t b" x="55" y="812" font-size="31" textLength="340" lengthAdjust="spacingAndGlyphs">不安定な拍から安定した</text>
<text class="t b" x="55" y="857" font-size="31" textLength="279" lengthAdjust="spacingAndGlyphs">一拍目への躍進感、</text>
<text class="t b" x="55" y="903" font-size="31" textLength="217" lengthAdjust="spacingAndGlyphs">推進力を感じて</text>

<!-- S2 annotations -->
<path d="M192 1087L198 1108L290 1084L284 1063" fill="none" stroke="#4a7de2" stroke-width="3.5"/>
<path d="M1190 1086Q1216 1058 1242 1086" fill="none" stroke="#4a7de2" stroke-width="4"/>
<text class="t b" x="1127" y="1010" font-size="31" textLength="343" lengthAdjust="spacingAndGlyphs">★繋げて弾くと指またぎ</text>
<text class="t b" x="1167" y="1057" font-size="31" textLength="183" lengthAdjust="spacingAndGlyphs">がとりやすい</text>
<text class="t b" x="78" y="1187" font-size="31" textLength="250" lengthAdjust="spacingAndGlyphs">★勢いよく手首を</text>
<text class="t b" x="113" y="1232" font-size="31" textLength="91" lengthAdjust="spacingAndGlyphs">使って</text>

<path d="M118 1398L131 1411L156 1381" fill="none" stroke="#4a7de2" stroke-width="9" stroke-linecap="round" stroke-linejoin="round"/>
<text class="t b" x="162" y="1408" font-size="38" textLength="230" lengthAdjust="spacingAndGlyphs">十六分音符が</text>
<text class="t b" x="160" y="1466" font-size="38" textLength="307" lengthAdjust="spacingAndGlyphs">すべらないように</text>
<path d="M522 1352H497V1487H522" fill="none" stroke="#4a7de2" stroke-width="3.5"/>
<text class="t b" x="518" y="1362" font-size="30" textLength="558" lengthAdjust="spacingAndGlyphs">・一音ずつ指を上げてはっきり発音する</text>
<text class="t b" x="518" y="1405" font-size="30" textLength="338" lengthAdjust="spacingAndGlyphs">・弾いた指はすぐ上げる</text>
<text class="t b" x="518" y="1451" font-size="30" textLength="805" lengthAdjust="spacingAndGlyphs">・最初の音をアクセントぎみに、あとはデクレッシェンド</text>
<text class="t b" x="518" y="1497" font-size="30" textLength="869" lengthAdjust="spacingAndGlyphs">・前の音から繋げずにしっかり切って上から落とすように入る</text>

<!-- S3 annotations -->
<text class="t r" x="434" y="1527" font-size="28" textLength="87" lengthAdjust="spacingAndGlyphs">切って</text>
<path d="M478 1586V1556M970 1585V1532" stroke="#cf3a62" stroke-width="3.5" stroke-dasharray="7 5"/>
<polygon points="469,1557 487,1557 478,1538" fill="#cf3a62"/><polygon points="961,1533 979,1533 970,1514" fill="#cf3a62"/>
<path d="M520 1613V1657M1017 1616V1673" stroke="#cf3a62" stroke-width="3.5"/>
<polygon points="511,1655 529,1655 520,1673" fill="#cf3a62"/><polygon points="1008,1671 1026,1671 1017,1689" fill="#cf3a62"/>
<text class="t r" x="481" y="1704" font-size="28" textLength="58" lengthAdjust="spacingAndGlyphs">落下</text>
<path d="M519 1537L555 1548L519 1559M1008 1537L1047 1548L1008 1559" fill="none" stroke="#4a7de2" stroke-width="5"/>
<path d="M548 1615L663 1652L540 1637M1045 1613L1160 1648L1037 1636" fill="none" stroke="#4a7de2" stroke-width="3"/>

<!-- S4 annotations -->
<rect x="793" y="1853" width="433" height="145" fill="#fff" stroke="#cf3a62" stroke-width="3.5"/>
<text class="t r" x="817" y="1892" font-size="30" textLength="247" lengthAdjust="spacingAndGlyphs">次のトリルに備え</text>
<text class="t r" x="817" y="1938" font-size="30" textLength="378" lengthAdjust="spacingAndGlyphs">この音の時に23の指を上げ</text>
<text class="t r" x="817" y="1984" font-size="30" textLength="372" lengthAdjust="spacingAndGlyphs">動きやすいように準備する</text>
<path d="M1199 2000L1252 2039" stroke="#cf3a62" stroke-width="3.5"/><polygon points="1266,2050 1246,2046 1257,2032" fill="#cf3a62"/>
<circle cx="1292" cy="2075" r="36" fill="none" stroke="#cf3a62" stroke-width="3.5"/>
<path d="M1307 1925L1320 1939L1345 1907" fill="none" stroke="#4a7de2" stroke-width="9" stroke-linecap="round" stroke-linejoin="round"/>
<text class="t b" x="1353" y="1935" font-size="38" textLength="301" lengthAdjust="spacingAndGlyphs">トリルは無理なく</text>
<text class="t b" x="1353" y="1991" font-size="38" textLength="304" lengthAdjust="spacingAndGlyphs">入れられる回数で</text>
<text class="t b" x="1307" y="2163" font-size="28" textLength="198" lengthAdjust="spacingAndGlyphs">シドシ（ドシ）</text>

<!-- bottom list -->
<text x="1191" y="2444" font-family="Liberation Sans, sans-serif" font-size="34" fill="#888" textLength="444" lengthAdjust="spacingAndGlyphs">https://piadoor.com/</text>
<path d="M520 2325H493V2445H520" fill="none" stroke="#4a7de2" stroke-width="3.5"/>
<text class="t b" x="518" y="2354" font-size="30" textLength="794" lengthAdjust="spacingAndGlyphs">・片手でトリル練習(浅いタッチで指は高く上げすぎない)</text>
<text class="t b" x="518" y="2399" font-size="30" textLength="1196" lengthAdjust="spacingAndGlyphs">・両手でゆっくりタイミングの確認(厳密に合わせようとせずにテンポ感の維持が大切)</text>
<text class="t b" x="518" y="2444" font-size="30" textLength="790" lengthAdjust="spacingAndGlyphs">・前後と繋げる練習(焦らずに、一拍ずつ短く繋げていく)</text>

<rect x="0" y="2523" width="1785" height="3" fill="#444"/>
</svg>
</body></html>
